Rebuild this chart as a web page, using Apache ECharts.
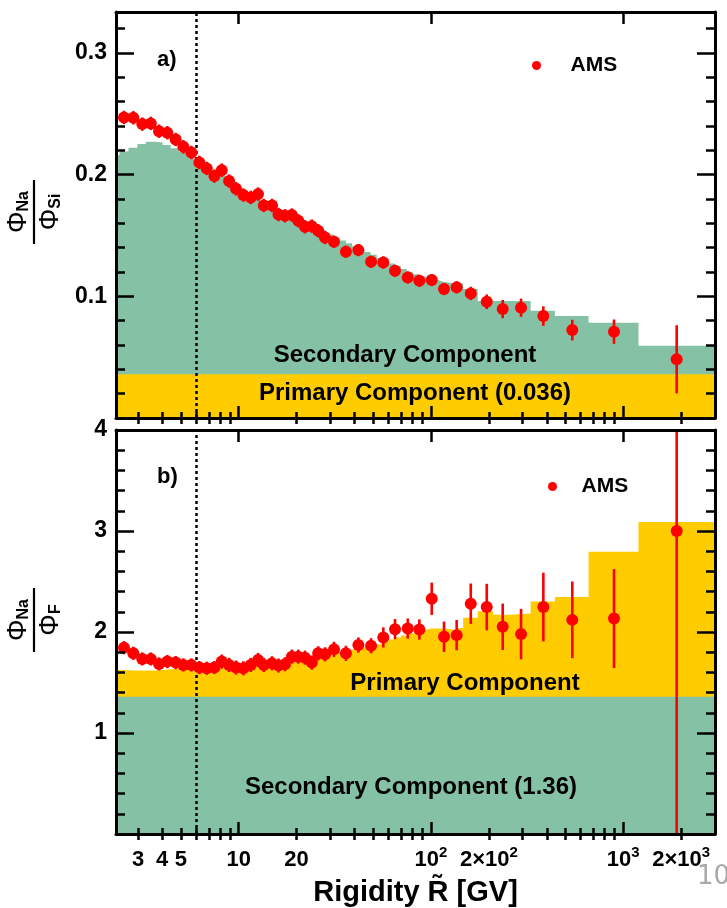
<!DOCTYPE html>
<html><head><meta charset="utf-8">
<script src="https://cdn.jsdelivr.net/npm/echarts@6/dist/echarts.min.js"></script>
<style>html,body{margin:0;padding:0;background:#fff}#c{width:727px;height:908px}</style>
</head><body><div id="c"></div>
<script>
// ---------------- data ----------------
const rigidity = [2.53,2.83,3.15,3.49,3.85,4.25,4.70,5.15,5.67,6.24,6.82,7.47,8.16,8.91,9.68,10.57,11.55,12.6,13.5,14.9,16.1,17.4,18.9,20.4,22.1,24.0,25.9,28.1,31.3,36.1,41.9,48.8,56.5,65.0,75.7,87.0,100.9,116.9,136,161,195,236,294,384,543,895,1896];
const ratioNaSi = [0.2469,0.2466,0.2414,0.2420,0.2356,0.2343,0.2288,0.2228,0.2181,0.2099,0.2050,0.1987,0.2036,0.1946,0.1883,0.1831,0.1812,0.1839,0.1746,0.1746,0.1672,0.1661,0.1667,0.1620,0.1571,0.1576,0.1538,0.1483,0.1448,0.1366,0.1379,0.1283,0.1278,0.1209,0.1155,0.1127,0.1133,0.1059,0.1073,0.1023,0.0955,0.0895,0.0906,0.0837,0.0722,0.0709,0.0482];
const errNaSi = [0.0055,0.0055,0.0055,0.0055,0.0055,0.0055,0.0055,0.0055,0.0055,0.0055,0.0055,0.0055,0.0055,0.0055,0.0055,0.0055,0.0055,0.0055,0.0055,0.0055,0.0055,0.0055,0.0055,0.0055,0.0055,0.0055,0.0055,0.0055,0.005,0.005,0.005,0.005,0.005,0.005,0.005,0.005,0.005,0.005,0.005,0.0055,0.006,0.0075,0.0075,0.008,0.0085,0.010,0.028];
const ratioNaF = [1.845,1.789,1.733,1.733,1.684,1.707,1.697,1.674,1.674,1.648,1.641,1.648,1.707,1.674,1.648,1.641,1.674,1.723,1.674,1.690,1.668,1.681,1.756,1.756,1.746,1.697,1.789,1.779,1.828,1.789,1.871,1.864,1.946,2.028,2.034,2.025,2.329,1.953,1.969,2.280,2.247,2.051,1.979,2.247,2.120,2.133,3.0];
const errNaF = [0.065,0.065,0.065,0.065,0.065,0.065,0.065,0.065,0.065,0.065,0.065,0.065,0.07,0.07,0.07,0.07,0.07,0.07,0.07,0.07,0.07,0.07,0.07,0.07,0.07,0.07,0.07,0.07,0.075,0.075,0.075,0.075,0.1,0.1,0.1,0.1,0.16,0.15,0.15,0.2,0.23,0.23,0.25,0.34,0.38,0.49,3.2];
const modelEdges = [2.15,2.40,2.67,2.97,3.29,3.64,4.02,4.43,4.88,5.37,5.90,6.47,7.09,7.76,8.48,9.26,10.1,11.0,12.0,13.0,14.1,15.3,16.6,18.0,19.5,21.1,22.8,24.7,26.7,28.8,31.1,33.5,36.1,38.9,41.9,45.1,48.5,52.2,56.1,60.3,64.8,69.7,74.9,80.5,86.5,93.0,100,108,116,125,135,147,175,211,259,330,441,660,1200,3300];
const modelNaSi = [0.2160,0.2190,0.2220,0.2250,0.2269,0.2263,0.2243,0.2215,0.2185,0.2152,0.2112,0.2070,0.2033,0.1993,0.1955,0.1914,0.1874,0.1836,0.1803,0.1771,0.1737,0.1710,0.1686,0.1662,0.1637,0.1612,0.1590,0.1563,0.1535,0.1508,0.1481,0.1458,0.1435,0.1410,0.1388,0.1364,0.1340,0.1316,0.1293,0.1269,0.1246,0.1224,0.1201,0.1180,0.1162,0.1148,0.1135,0.1120,0.1110,0.1105,0.1106,0.1060,0.0961,0.0961,0.0961,0.0881,0.0837,0.0783,0.0594];
const modelNaF = [1.625,1.622,1.619,1.618,1.620,1.625,1.632,1.638,1.645,1.652,1.659,1.664,1.668,1.672,1.676,1.679,1.681,1.685,1.688,1.693,1.705,1.713,1.720,1.740,1.750,1.758,1.766,1.776,1.786,1.795,1.805,1.815,1.826,1.838,1.848,1.860,1.874,1.888,1.905,1.925,1.945,1.965,1.985,2.000,2.020,2.034,2.034,2.034,2.030,2.018,2.040,2.140,2.205,2.172,2.182,2.303,2.346,2.794,3.089];
const primaryNaSi = 0.036;
const secondaryNaF = 1.36;
const cutRigidity = 6;
const xRange = [2.3, 3000];
const xTickValues = [3,4,5,10,20,100,200,1000,2000];
const xTickLabels = ['{n|3}','{n|4}','{n|5}','{n|10}','{n|20}','{n|10}{s|2}','{n|2×10}{s|2}','{n|10}{s|3}','{n|2×10}{s|3}'];
const xMajorTicks = [10,100,1000];
const xMinorTicks = [3,4,5,6,7,8,9,20,30,40,50,60,70,80,90,200,300,400,500,600,700,800,900,2000];
const yTopRange = [0, 0.3335];
const yTopMajor = [0.1,0.2,0.3];
const yTopMinor = [0.02,0.04,0.06,0.08,0.12,0.14,0.16,0.18,0.22,0.24,0.26,0.28,0.32];
const yBotRange = [0, 4];
const yBotMajor = [1,2,3,4];
const yBotMinor = [0.2,0.4,0.6,0.8,1.2,1.4,1.6,1.8,2.2,2.4,2.6,2.8,3.2,3.4,3.6,3.8];

// ---------------- styling ----------------
const FONT = 'Liberation Sans, Arial, sans-serif';
const RED = '#ff0000', YEL = '#ffcc00', GRN = '#85c1a5';
const lg = Math.log10;
const xmin = lg(xRange[0]), xmax = lg(xRange[1]);

function xAxes(g, labels) {
  const base = {type:'value', gridIndex:g, min:xmin, max:xmax, z:10, splitLine:{show:false}, axisLabel:{show:false}};
  const tickLine = {color:'#000', width:2.5};
  const major = {axisTick:{show:true, inside:true, length:12, customValues:xMajorTicks.map(lg), lineStyle:tickLine}};
  const minor = {axisLine:{show:false}, axisTick:{show:true, inside:true, length:6, customValues:xMinorTicks.map(lg), lineStyle:tickLine}};
  const line = {axisLine:{show:true, onZero:false, lineStyle:{color:'#000', width:3}}};
  const bottomMajor = Object.assign({}, base, {position:'bottom'}, line, major);
  if (labels) {
    bottomMajor.axisLabel = {
      show:true, customValues:xTickValues.map(lg), margin:11,
      formatter: v => { const i = xTickValues.findIndex(t => Math.abs(lg(t) - v) < 1e-6); return i < 0 ? '' : xTickLabels[i]; },
      rich: {
        n:{fontFamily:FONT, fontWeight:'bold', fontSize:22, color:'#000', lineHeight:26, verticalAlign:'bottom'},
        s:{fontFamily:FONT, fontWeight:'bold', fontSize:15, color:'#000', lineHeight:14, verticalAlign:'top'}
      }
    };
    bottomMajor.name = 'Rigidity R\u0303 [GV]';
    bottomMajor.nameLocation = 'middle';
    bottomMajor.nameGap = 44;
    bottomMajor.nameTextStyle = {fontFamily:FONT, fontWeight:'bold', fontSize:29, color:'#000'};
  }
  return [
    bottomMajor,
    Object.assign({}, base, {position:'bottom'}, minor),
    Object.assign({}, base, {position:'top'}, line, major),
    Object.assign({}, base, {position:'top'}, minor)
  ];
}
function yAxes(g, range, majors, minors) {
  const base = {type:'value', gridIndex:g, min:range[0], max:range[1], z:10, splitLine:{show:false}, axisLabel:{show:false}};
  const tickLine = {color:'#000', width:2.5};
  const line = {axisLine:{show:true, onZero:false, lineStyle:{color:'#000', width:3}}};
  const major = {axisTick:{show:true, inside:true, length:18, customValues:majors, lineStyle:tickLine}};
  const minor = {axisLine:{show:false}, axisTick:{show:true, inside:true, length:9, customValues:minors, lineStyle:tickLine}};
  const leftMajor = Object.assign({}, base, {position:'left'}, line, major);
  leftMajor.axisLabel = {show:true, customValues:majors, margin:9, fontFamily:FONT, fontWeight:'bold', fontSize:23, color:'#000'};
  return [
    leftMajor,
    Object.assign({}, base, {position:'left'}, minor),
    Object.assign({}, base, {position:'right'}, line, major),
    Object.assign({}, base, {position:'right'}, minor)
  ];
}
function stepData(edges, vals) {
  const out = [];
  vals.forEach((v, i) => { out.push([lg(edges[i]), v]); out.push([lg(edges[i + 1]), v]); });
  return out;
}
function areaLine(name, xi, yi, data, color, z, extra) {
  return Object.assign({
    type:'line', name, xAxisIndex:xi, yAxisIndex:yi, data, showSymbol:false, symbol:'none',
    lineStyle:{width:0}, areaStyle:{color, opacity:1}, itemStyle:{color}, z, clip:true, silent:true, animation:false
  }, extra || {});
}
const cutLine = {
  silent:true, symbol:['none','none'], label:{show:false}, animation:false,
  lineStyle:{color:'#000', type:[3,3], width:2.5}, data:[{xAxis: lg(cutRigidity)}]
};
function amsSeries(xi, yi, vals, errs) {
  return {
    type:'custom', name:'AMS', xAxisIndex:xi, yAxisIndex:yi, z:6, clip:true, animation:false,
    itemStyle:{color:RED},
    encode:{x:0, y:1},
    data: rigidity.map((r, i) => [lg(r), vals[i], vals[i] - errs[i], vals[i] + errs[i]]),
    renderItem(params, api) {
      const x = api.value(0);
      const p = api.coord([x, api.value(1)]);
      const lo = api.coord([x, api.value(2)]);
      const hi = api.coord([x, api.value(3)]);
      return {type:'group', children:[
        {type:'line', shape:{x1:p[0], y1:lo[1], x2:p[0], y2:hi[1]}, style:{stroke:RED, lineWidth:2.6}},
        {type:'circle', shape:{cx:p[0], cy:p[1], r:6}, style:{fill:RED}}
      ]};
    }
  };
}
function fraction(cx, cy, num, den) {
  const rich = {
    p:{fontFamily:FONT, fontSize:27, color:'#000', lineHeight:28, verticalAlign:'bottom'},
    s:{fontFamily:FONT, fontSize:16, fontWeight:'bold', color:'#000', lineHeight:15, verticalAlign:'bottom'}
  };
  return {type:'group', x:cx, y:cy, rotation:Math.PI / 2, children:[
    {type:'text', x:0, y:-2, style:{text:'{p|Φ}{s|' + num + '}', rich, align:'center', verticalAlign:'bottom'}},
    {type:'line', shape:{x1:-32, y1:0, x2:32, y2:0}, style:{stroke:'#000', lineWidth:2.2}},
    {type:'text', x:0, y:2, style:{text:'{p|Φ}{s|' + den + '}', rich, align:'center', verticalAlign:'top'}}
  ]};
}
function label(x, y, text, size, align) {
  return {type:'text', x, y, z:20, style:{text, fontFamily:FONT, fontWeight:'bold', fontSize:size, fill:'#000', align:align || 'center', verticalAlign:'middle'}};
}

const option = {
  animation:false,
  backgroundColor:'#fff',
  grid:[
    {left:116, top:12, width:599, height:406},
    {left:116, top:430, width:599, height:407}
  ],
  xAxis:[].concat(xAxes(0, false), xAxes(1, true)),
  yAxis:[].concat(yAxes(0, yTopRange, yTopMajor, yTopMinor), yAxes(1, yBotRange, yBotMajor, yBotMinor)),
  legend:[
    {data:[{name:'AMS', icon:'circle'}], left:527, top:50, itemWidth:58, itemHeight:9, textStyle:{fontFamily:FONT, fontWeight:'bold', fontSize:21, color:'#000'}, selectedMode:false},
    {data:[{name:'AMS', icon:'circle'}], left:543, top:471, itemWidth:48, itemHeight:9, textStyle:{fontFamily:FONT, fontWeight:'bold', fontSize:21, color:'#000'}, selectedMode:false}
  ],
  series:[
    areaLine('Secondary NaSi', 0, 0, stepData(modelEdges, modelNaSi), GRN, 1),
    areaLine('Primary NaSi', 0, 0, [[xmin, primaryNaSi], [xmax, primaryNaSi]], YEL, 2, {markLine:cutLine}),
    amsSeries(0, 0, ratioNaSi, errNaSi),
    areaLine('Primary NaF', 4, 4, stepData(modelEdges, modelNaF), YEL, 1),
    areaLine('Secondary NaF', 4, 4, [[xmin, secondaryNaF], [xmax, secondaryNaF]], GRN, 2, {markLine:cutLine}),
    amsSeries(4, 4, ratioNaF, errNaF)
  ],
  graphic:[
    label(157, 60, 'a)', 22, 'left'),
    label(157, 477, 'b)', 22, 'left'),
    label(405, 355, 'Secondary Component', 24),
    label(415, 393, 'Primary Component (0.036)', 24),
    label(465, 683, 'Primary Component', 24),
    label(411, 787, 'Secondary Component (1.36)', 24),
    fraction(34, 212, 'Na', 'Si'),
    fraction(34, 620, 'Na', 'F'),
    {type:'text', x:697, y:877, style:{text:'10', fontFamily:'DejaVu Sans, sans-serif', fontSize:26, fill:'#a8a8a8', align:'left', verticalAlign:'middle'}}
  ]
};
const chart = echarts.init(document.getElementById('c'), null, {renderer:'canvas'});
chart.setOption(option);
</script>
</body></html>
